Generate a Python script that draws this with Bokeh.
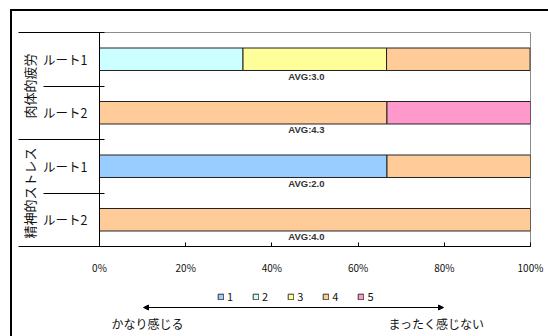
from bokeh.plotting import figure
from bokeh.layouts import column
from bokeh.models import (Range1d, FixedTicker, PrintfTickFormatter, Label, Arrow, NormalHead,
                          Legend, LegendItem, LinearAxis)
from bokeh.embed import file_html
from bokeh.resources import INLINE
from bokeh.core.properties import value

# ---- data ----
groups = ["肉体的疲労", "精神的ストレス"]
routes = ["ルート1", "ルート2", "ルート1", "ルート2"]
row_group = [0, 0, 1, 1]
levels = ["1", "2", "3", "4", "5"]
share_1 = [0, 0, 66.7, 0]
share_2 = [33.3, 0, 0, 0]
share_3 = [33.3, 0, 0, 0]
share_4 = [33.3, 66.7, 33.3, 100]
share_5 = [0, 33.3, 0, 0]
averages = [3.0, 4.3, 2.0, 4.0]
x_ticks = [0, 20, 40, 60, 80, 100]
left_text = "かなり感じる"
right_text = "まったく感じない"

colors = ["#99CCFF", "#CCFFFF", "#FFFF99", "#FFCC99", "#FF99CC"]
shares = [share_1, share_2, share_3, share_4, share_5]
JP = "Noto Sans CJK JP"
TXT = "#111111"

n = len(routes)
row_y = [n - i - 0.5 for i in range(n)]
bar_h = 0.42

# ---- main chart ----
p = figure(width=536, height=269, output_backend="svg", toolbar_location=None,
           x_range=Range1d(0, 100), y_range=Range1d(0, n),
           min_border_left=87, min_border_right=18, min_border_top=21, min_border_bottom=34)
p.outline_line_color = "#8c8c8c"
p.xgrid.visible = False
p.ygrid.visible = False

xa = p.xaxis[0]
xa.ticker = FixedTicker(ticks=x_ticks)
xa.formatter = PrintfTickFormatter(format="%d%%")
xa.axis_line_color = "black"
xa.major_tick_in = 4
xa.major_tick_out = 0
xa.major_tick_line_color = "black"
xa.minor_tick_line_color = None
xa.major_label_text_font = JP
xa.major_label_text_font_size = "10px"
xa.major_label_text_color = TXT
xa.major_label_standoff = 13

# inner y axis: route names + short separators
ya = p.yaxis[0]
ya.ticker = FixedTicker(ticks=row_y, minor_ticks=list(range(n + 1)))
ya.major_label_overrides = {row_y[i]: routes[i] for i in range(n)}
ya.axis_line_color = "black"
ya.major_tick_line_color = None
ya.major_tick_in = 0
ya.major_tick_out = 0
ya.minor_tick_in = 5
ya.minor_tick_out = 56
ya.minor_tick_line_color = "black"
ya.major_label_standoff = -44
ya.major_label_text_font = JP
ya.major_label_text_font_size = "12.5px"
ya.major_label_text_color = TXT

# outer y axis: group names + long separators
group_pos = []
for g in range(len(groups)):
    ys = [row_y[i] for i in range(n) if row_group[i] == g]
    group_pos.append(sum(ys) / len(ys))
gb = [0, 2, 4]
ya2 = LinearAxis(ticker=FixedTicker(ticks=group_pos, minor_ticks=gb))
ya2.major_label_overrides = {group_pos[g]: groups[g] for g in range(len(groups))}
ya2.major_label_orientation = "vertical"
ya2.axis_line_color = None
ya2.major_tick_line_color = None
ya2.major_tick_in = 0
ya2.major_tick_out = 0
ya2.minor_tick_in = 12
ya2.minor_tick_out = 22
ya2.minor_tick_line_color = "black"
ya2.major_label_standoff = -20
ya2.major_label_text_font = JP
ya2.major_label_text_font_size = "13px"
ya2.major_label_text_color = TXT
p.add_layout(ya2, "left")

renderers = []
cum = [0.0] * n
for k, lv in enumerate(levels):
    ys, lefts, rights = [], [], []
    for i in range(n):
        v = shares[k][i]
        if v > 0:
            ys.append(row_y[i]); lefts.append(cum[i]); rights.append(cum[i] + v)
        cum[i] += v
    r = p.hbar(y=ys, left=lefts, right=rights, height=bar_h, fill_color=colors[k],
               line_color="#222222", line_width=1)
    renderers.append(r)

for i in range(n):
    p.add_layout(Label(x=48, y=row_y[i] - bar_h / 2 - 0.107, text="AVG:%.1f" % averages[i],
                       text_align="center", text_baseline="middle", text_font="Liberation Sans",
                       text_font_size="9.5px", text_font_style="bold", text_color="#333333"))

# ---- bottom strip: legend, arrow, captions (page pixel coords; frame aligns with chart frame) ----
q = figure(width=536, height=56, output_backend="svg", toolbar_location=None,
           x_range=Range1d(99, 530), y_range=Range1d(336, 280),
           x_axis_type=None, y_axis_type=None, min_border=0)
q.outline_line_color = None
q.xgrid.visible = False
q.ygrid.visible = False
items = []
for k, lv in enumerate(levels):
    rr = q.rect(x=[0], y=[0], width=1, height=1, fill_color=colors[k], line_color="#333333")
    items.append(LegendItem(label=lv, renderers=[rr]))
legend = Legend(items=items, orientation="horizontal", location=(118, 32), glyph_width=7,
                glyph_height=7, label_standoff=3, spacing=19, padding=0, margin=0, label_width=0,
                label_height=12, label_text_font=JP, label_text_font_size="11px",
                label_text_color=TXT, border_line_alpha=0, background_fill_alpha=0)
q.add_layout(legend, "center")
q.add_layout(Arrow(start=NormalHead(size=5, fill_color="black", line_color="black"),
                   end=NormalHead(size=5, fill_color="black", line_color="black"),
                   x_start=143, y_start=307, x_end=443, y_end=307,
                   line_color="black", line_width=1))
q.text(x=[111, 388], y=[323, 323], text=[left_text, right_text], text_baseline="middle",
       text_font=value(JP), text_font_size="12px", text_color=TXT)

layout = column(p, q, spacing=0, margin=(9, 0, 0, 10),
                styles={"border-left": "2px solid #000", "border-top": "2px solid #000"})

open("out.html", "w").write(file_html(layout, INLINE))
